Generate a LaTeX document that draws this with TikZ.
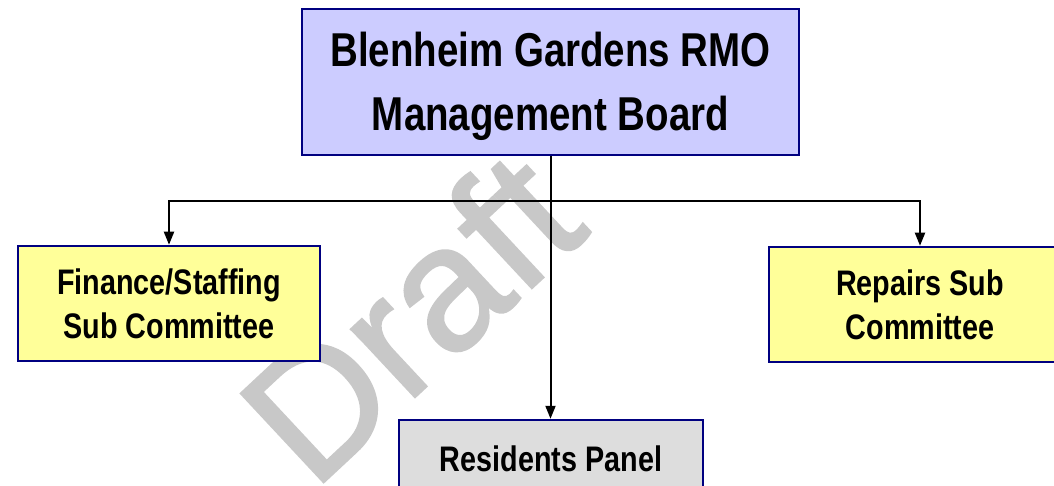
\documentclass[tikz,border=0pt]{standalone}
\usepackage{fontspec}
\usetikzlibrary{arrows.meta}
\newfontfamily\boxfont[FakeStretch=0.81]{Liberation Sans}
\newfontfamily\wmfont[FakeBold=1.4]{Liberation Sans}
\definecolor{navy}{HTML}{000080}
\definecolor{lav}{HTML}{CCCCFF}
\definecolor{pale}{HTML}{FFFF99}
\definecolor{lgray}{HTML}{DDDDDD}
\definecolor{wm}{HTML}{C8C8C8}
\tikzset{
  orgbox/.style={draw=navy, line width=2.5pt, inner sep=0pt, align=center,
    font=\boxfont\bfseries},
  topbox/.style={orgbox, fill=lav, minimum width=497pt, minimum height=146pt},
  toptext/.style={inner sep=0pt, align=center,
    font=\boxfont\bfseries\fontsize{47.5}{64}\selectfont},
  subbox/.style={orgbox, fill=pale, minimum width=302pt, minimum height=115pt,
    font=\boxfont\bfseries\fontsize{35.5}{44}\selectfont},
  panelbox/.style={orgbox, fill=lgray, minimum width=304pt, minimum height=78pt,
    font=\boxfont\bfseries\fontsize{35.5}{44}\selectfont},
  conn/.style={draw=black, line width=2pt},
  arr/.style={conn, -{Triangle[width=10pt,length=13pt]}},
}
\begin{document}
\begin{tikzpicture}[x=1pt,y=-1pt]
\clip (0,0) rectangle (1054,486);
\fill[white] (0,0) rectangle (1054,486);
% watermark
\node[text=wm, font=\wmfont\fontsize{176}{176}\selectfont, anchor=base west,
  inner sep=0pt, rotate=43] (wmark) at (313,492) {Draft};
% boxes
\node[topbox] (top) at (550.5,82) {};
\node[toptext] (toptxt) at (550.5,86) {Blenheim Gardens RMO\\Management Board};
\node[subbox] (fin) at (169,303.5) {Finance/Staffing\\Sub Committee};
\node[subbox] (rep) at (920,304.5) {Repairs Sub\\Committee};
\node[panelbox] (res) at (551,459) {Residents Panel};
\coordinate (j) at (550.5,201);
% connectors
\draw[conn] (top.south) -- (j);
\draw[arr] (j) -| (fin.north);
\draw[arr] (j) -| (rep.north);
\draw[arr] (j) -- (j |- res.north);
\end{tikzpicture}
\end{document}
